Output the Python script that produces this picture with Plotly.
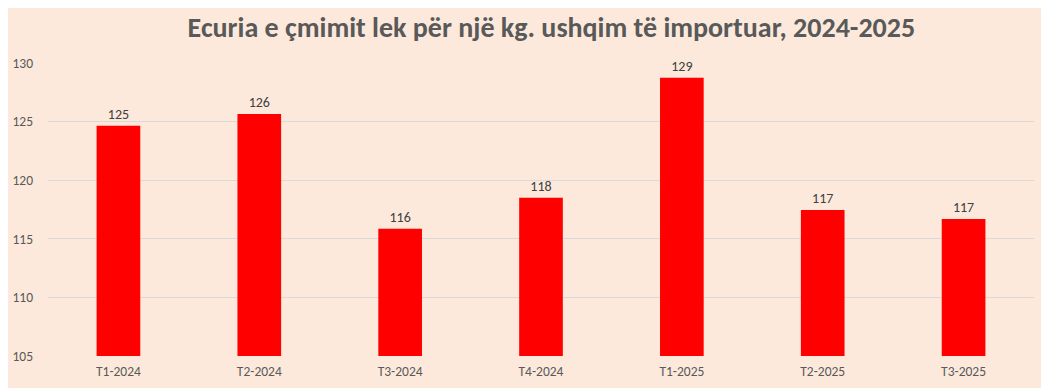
import plotly.graph_objects as go

categories = ["T1-2024", "T2-2024", "T3-2024", "T4-2024", "T1-2025", "T2-2025", "T3-2025"]
values = [124.65, 125.65, 115.85, 118.5, 128.75, 117.45, 116.7]
labels = ["125", "126", "116", "118", "129", "117", "117"]
title = "Ecuria e çmimit lek për një kg. ushqim të importuar, 2024-2025"

font_fam = "Carlito, Lato, sans-serif"

fig = go.Figure(go.Bar(
    x=categories, y=values, text=labels, textposition="outside",
    textfont=dict(size=14, color="#404040", family=font_fam),
    marker=dict(color="#FF0000", line=dict(width=0)),
    cliponaxis=False,
))
fig.update_layout(
    width=1049, height=388,
    paper_bgcolor="#FCE9DB", plot_bgcolor="#FCE9DB",
    margin=dict(l=40, r=23, t=55, b=40),
    bargap=0.69,
    showlegend=False,
    title=dict(text="<b>" + title + "</b>", x=0.518, xanchor="center", y=0.951, yanchor="middle",
               font=dict(size=28, color="#595959", family=font_fam)),
    xaxis=dict(showgrid=False, showline=False, ticks="", ticklabelstandoff=5, automargin=False,
               tickfont=dict(size=13.5, color="#595959", family=font_fam)),
    yaxis=dict(range=[105, 130], dtick=5, showgrid=True, gridcolor="#D9D9D9", gridwidth=1,
               zeroline=False, showline=False, ticks="", ticklabelstandoff=14, automargin=False,
               tickfont=dict(size=13.5, color="#595959", family=font_fam)),
)
fig.write_html("out.html")
